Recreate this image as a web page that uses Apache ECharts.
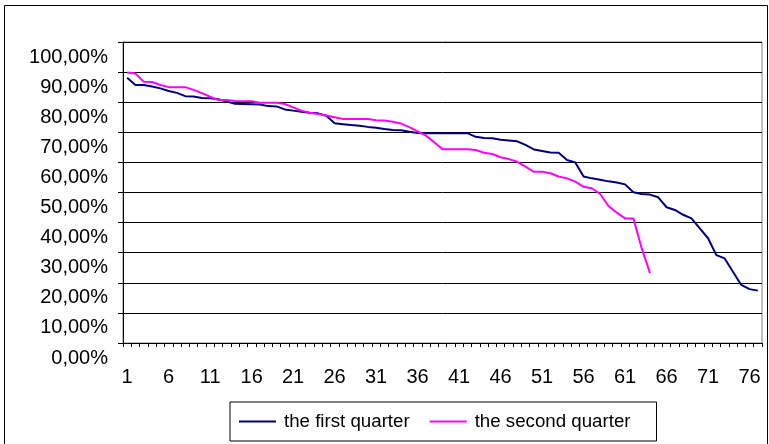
<!DOCTYPE html>
<html>
<head>
<meta charset="utf-8">
<script src="https://cdn.jsdelivr.net/npm/echarts@6/dist/echarts.min.js"></script>
<style>
  html, body { margin: 0; padding: 0; background: #fff; }
  #chart { width: 769px; height: 444px; }
</style>
</head>
<body>
<div id="chart"></div>
<script>
// categories 1..77 (just row numbers)
const categories = Array.from({ length: 77 }, (_, i) => String(i + 1));

// values, in percent
const firstQuarter = [
  88.1, 85.7, 85.7, 85.2, 84.6, 83.7, 83.1, 82.0, 81.9, 81.4,
  81.3, 81.0, 80.2, 79.5, 79.4, 79.3, 79.2, 78.7, 78.6, 77.6,
  77.2, 76.8, 76.5, 76.3, 75.5, 73.0, 72.7, 72.4, 72.2, 71.8,
  71.5, 71.1, 70.8, 70.7, 70.2, 69.8, 69.7, 69.7, 69.7, 69.7,
  69.7, 69.7, 68.5, 68.1, 68.0, 67.5, 67.3, 67.0, 65.8, 64.3,
  63.8, 63.3, 63.2, 60.8, 60.0, 55.3, 54.7, 54.2, 53.7, 53.3,
  52.7, 50.1, 49.5, 49.3, 48.4, 45.1, 44.2, 42.6, 41.4, 38.1,
  34.8, 29.2, 28.1, 23.7, 19.3, 17.9, 17.4
];
const secondQuarter = [
  89.9, 89.5, 86.8, 86.7, 85.7, 85.0, 85.0, 85.0, 84.1, 83.0,
  81.8, 80.7, 80.7, 80.4, 80.3, 80.3, 79.8, 79.8, 79.8, 79.4,
  78.3, 77.2, 76.5, 76.1, 75.6, 75.0, 74.4, 74.4, 74.4, 74.4,
  74.0, 73.9, 73.5, 72.9, 71.7, 70.3, 68.9, 66.7, 64.4, 64.4,
  64.4, 64.4, 64.1, 63.2, 62.8, 61.7, 61.1, 60.2, 58.6, 56.9,
  56.9, 56.4, 55.3, 54.7, 53.6, 51.9, 51.4, 49.5, 45.5, 43.3,
  41.4, 41.4, 31.5, 23.2
];
const seriesNames = ['the first quarter', 'the second quarter'];
const colors = ['#000080', '#FF00FF'];

const chart = echarts.init(document.getElementById('chart'));

function pct(v) {
  return v.toFixed(2).replace('.', ',') + '%';
}

chart.setOption({
  animation: false,
  color: colors,
  textStyle: { fontFamily: 'Liberation Sans, Arial, sans-serif', color: '#000' },
  graphic: [
    {
      type: 'rect',
      shape: { x: 4.5, y: 5.5, width: 763, height: 600 },
      style: { fill: 'none', stroke: '#000', lineWidth: 1 },
      silent: true
    }
  ],
  grid: {
    left: 123,
    right: 7,
    top: 42,
    bottom: 101,
    show: true,
    borderColor: '#808080',
    borderWidth: 1
  },
  legend: {
    data: seriesNames,
    left: 230,
    top: 402,
    padding: [10, 26, 10, 9],
    itemGap: 20,
    itemWidth: 37,
    itemHeight: 2,
    icon: 'rect',
    borderColor: '#000',
    borderWidth: 1,
    textStyle: { fontSize: 18.7, color: '#000', padding: [0, 0, 0, 3] }
  },
  xAxis: {
    type: 'category',
    data: categories,
    boundaryGap: true,
    axisLine: { lineStyle: { color: '#000', width: 1 } },
    axisTick: { show: true, length: 4, interval: 0, lineStyle: { color: '#000' } },
    axisLabel: { interval: 4, fontSize: 20, color: '#000', margin: 24 },
    splitLine: { show: false }
  },
  yAxis: {
    type: 'value',
    min: 0,
    max: 100,
    interval: 10,
    axisLine: { show: true, lineStyle: { color: '#000', width: 1 } },
    axisTick: { show: true, length: 5, lineStyle: { color: '#000' } },
    axisLabel: {
      fontSize: 20,
      color: '#000',
      margin: 15,
      verticalAlign: 'top',
      padding: [5, 0, 0, 0],
      formatter: pct
    },
    splitLine: { show: true, lineStyle: { color: '#000', width: 1 } }
  },
  series: [
    {
      name: seriesNames[0],
      type: 'line',
      data: firstQuarter,
      symbol: 'none',
      lineStyle: { width: 2, color: colors[0] }
    },
    {
      name: seriesNames[1],
      type: 'line',
      data: secondQuarter,
      symbol: 'none',
      lineStyle: { width: 2, color: colors[1] }
    }
  ]
});
</script>
</body>
</html>
